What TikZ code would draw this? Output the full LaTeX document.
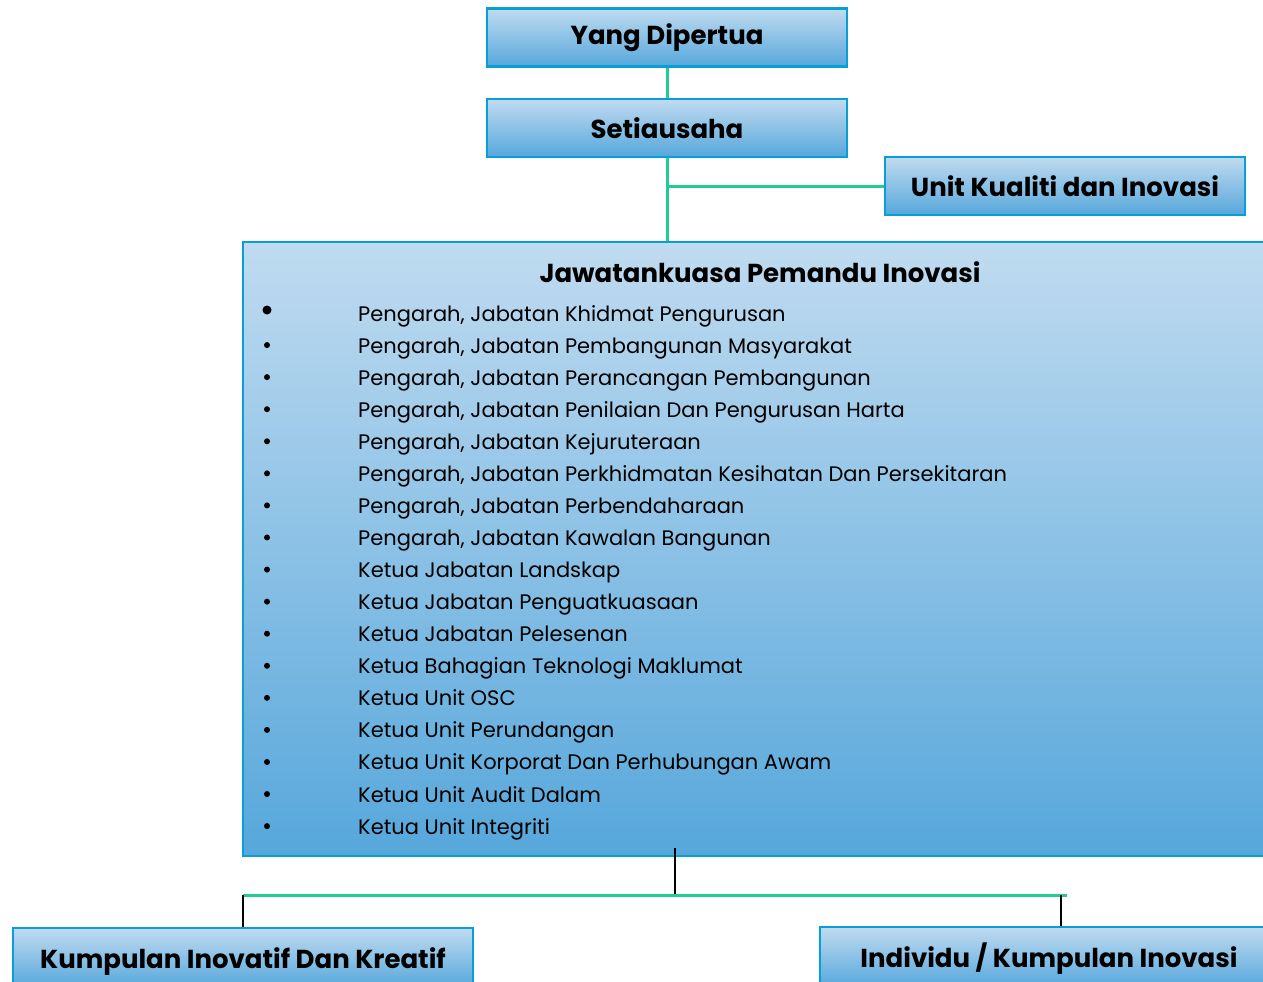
\documentclass[tikz,border=0pt]{standalone}
\usepackage{fontspec}
\setmainfont{Poppins}
\usetikzlibrary{positioning}
\definecolor{boxtop}{RGB}{192,219,240}
\definecolor{boxbot}{RGB}{86,167,219}
\definecolor{boxline}{RGB}{8,158,214}
\definecolor{linkgreen}{RGB}{34,204,150}

\begin{document}
\begin{tikzpicture}[x=1pt,y=-1pt,
    orgbox/.style={draw=boxline, line width=2.5pt, top color=boxtop, bottom color=boxbot,
      minimum width=360pt, minimum height=58pt, inner sep=0pt},
    headtext/.style={font=\fontsize{26}{30}\selectfont\bfseries},
    itemtext/.style={font=\fontsize{21}{25}\selectfont, anchor=base west, inner sep=0pt},
    dotmark/.style={circle, fill=black, inner sep=0pt, minimum size=6pt},
    greenlink/.style={draw=linkgreen, line width=3pt},
    blacklink/.style={draw=black, line width=1.6pt}]
  \useasboundingbox (0,0) rectangle (1263,982);

  % top of the chart
  \node[orgbox, headtext] (dipertua) at (667,37.5) {Yang Dipertua};
  \node[orgbox, headtext] (setia) at (667,128) {Setiausaha};
  \node[orgbox, headtext] (kualiti) at (1065,186) {Unit Kualiti dan Inovasi};

  % steering committee
  \node[orgbox, minimum width=1030pt, minimum height=614pt] (pemandu) at (758,549) {};
  \node[headtext] (pemanduTitle) at (760,272) {Jawatankuasa Pemandu Inovasi};
  \foreach \txt [count=\i] in {
      {Pengarah, Jabatan Khidmat Pengurusan},
      {Pengarah, Jabatan Pembangunan Masyarakat},
      {Pengarah, Jabatan Perancangan Pembangunan},
      {Pengarah, Jabatan Penilaian Dan Pengurusan Harta},
      {Pengarah, Jabatan Kejuruteraan},
      {Pengarah, Jabatan Perkhidmatan Kesihatan Dan Persekitaran},
      {Pengarah, Jabatan Perbendaharaan},
      {Pengarah, Jabatan Kawalan Bangunan},
      {Ketua Jabatan Landskap},
      {Ketua Jabatan Penguatkuasaan},
      {Ketua Jabatan Pelesenan},
      {Ketua Bahagian Teknologi Maklumat},
      {Ketua Unit OSC},
      {Ketua Unit Perundangan},
      {Ketua Unit Korporat Dan Perhubungan Awam},
      {Ketua Unit Audit Dalam},
      {Ketua Unit Integriti}} {
    \ifnum\i=1
      \node[dotmark, minimum size=9pt] (dot\i) at (267,310) {};
    \else
      \node[dotmark] (dot\i) at (267,{313+32.07*(\i-1)}) {};
    \fi
    \node[itemtext] (item\i) at (358,{321+32.07*(\i-1)}) {\txt};
  }

  % working groups
  \node[orgbox, minimum width=460pt, minimum height=60pt] (kreatif) at (243,958) {};
  \node[headtext] (kreatifText) at (243,962) {Kumpulan Inovatif Dan Kreatif};
  \node[orgbox, minimum width=482pt, minimum height=60pt] (individu) at (1061,957) {};
  \node[headtext] (individuText) at (1049,959) {Individu / Kumpulan Inovasi};

  \coordinate (stub) at (675,848);
  \coordinate (split) at (675,895);
  \coordinate (leftEnd) at (243,895);
  \coordinate (rightEnd) at (1067,895);

  \draw[greenlink] (dipertua) -- (setia);
  \draw[greenlink] (setia) -- (pemandu.north -| setia);
  \draw[greenlink] (setia.south |- kualiti.west) -- (kualiti.west);
  \draw[blacklink] (stub) -- (split);
  \draw[greenlink] (leftEnd) -- (rightEnd);
  \draw[blacklink] (kreatif.north) -- (kreatif.north |- leftEnd);
  \draw[blacklink] (individu.north) -- (individu.north |- rightEnd);
\end{tikzpicture}
\end{document}
